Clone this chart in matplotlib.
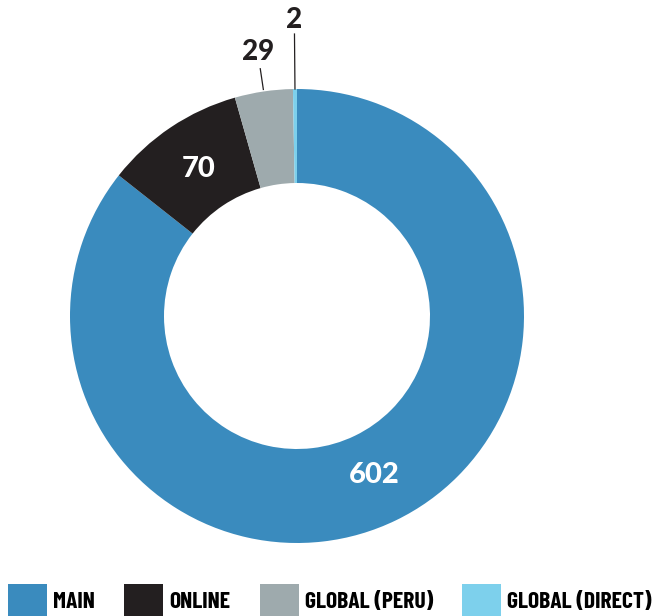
import matplotlib
matplotlib.use("Agg")
import matplotlib.pyplot as plt
import numpy as np

categories = ["MAIN", "ONLINE", "GLOBAL (PERU)", "GLOBAL (DIRECT)"]
values = [602, 70, 29, 2]
colors = ["#3A8BBE", "#231F20", "#9EAAAD", "#7DD0EC"]

# label styling: inside (white) or outside (dark, with leader line)
label_inside = [True, True, False, False]
outer_line = [(229, 250), (227, 282)]
outer_text_r = [267, 296]

fig = plt.figure(figsize=(6.54, 6.16), dpi=100)
ax = fig.add_axes([0, 0, 1, 1])

R, W = 227, 94
cx, cy = 297, 300
wedges, _ = ax.pie(values, colors=colors, startangle=90, counterclock=False,
                   radius=R, center=(cx, cy),
                   wedgeprops=dict(width=W, linewidth=0))
ax.set_xlim(0, 654)
ax.set_ylim(0, 616)
ax.set_aspect("equal")
ax.axis("off")

num_font = dict(family=["Lato", "DejaVu Sans"], weight="black")
k = 0
for w, v, inside in zip(wedges, values, label_inside):
    ang = np.deg2rad((w.theta1 + w.theta2) / 2)
    ux, uy = np.cos(ang), np.sin(ang)
    if inside:
        r = R - W / 2 - 3
        ax.text(cx + r * ux, cy + r * uy, str(v), color="white", fontsize=21,
                ha="center", va="center", **num_font)
    else:
        r0, r1 = outer_line[k]
        ax.plot([cx + r0 * ux, cx + r1 * ux], [cy + r0 * uy, cy + r1 * uy],
                color="#231F20", lw=0.9)
        rt = outer_text_r[k]
        ax.text(cx + rt * ux, cy + rt * uy, str(v), color="#231F20", fontsize=20,
                ha="center", va="center", **num_font)
        k += 1

fig.legend(wedges, categories, loc="center left", bbox_to_anchor=(8 / 654, 16 / 616),
           ncol=4, frameon=False, borderpad=0, borderaxespad=0,
           handlelength=1.65, handleheight=1.65, handletextpad=0.25,
           columnspacing=1.25,
           prop=dict(family=["Barlow Condensed", "Roboto Condensed", "DejaVu Sans"],
                     weight="bold", size=17))

fig.savefig("out.png", dpi=100)
